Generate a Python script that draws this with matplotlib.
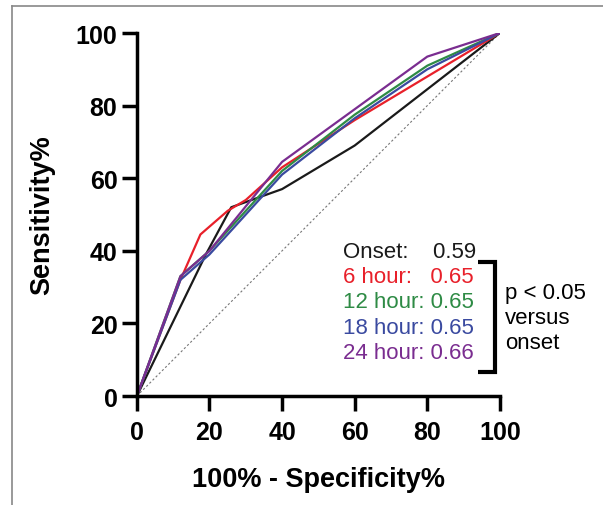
import matplotlib.pyplot as plt
from matplotlib.lines import Line2D

plt.rcParams['font.family'] = ['Liberation Sans', 'DejaVu Sans']

# ROC curve points (x = 100% - specificity, y = sensitivity)
onset_x = [0, 19, 26, 40, 60, 80, 100]
onset_y = [0, 39, 52, 57, 69, 84.5, 100]
h6_x = [0, 12, 17.5, 25, 30, 40, 60, 80, 100]
h6_y = [0, 32, 44.5, 51, 54, 63, 76, 88, 100]
h12_x = [0, 12, 20, 40, 60, 80, 100]
h12_y = [0, 33, 40, 62, 77.5, 91, 100]
h18_x = [0, 12, 20, 40, 60, 80, 100]
h18_y = [0, 32, 39, 61, 76.5, 90, 100]
h24_x = [0, 12, 20, 40, 60, 80, 100]
h24_y = [0, 33, 40, 64.5, 79, 93.5, 100]

labels = ['Onset:    0.59', '6 hour:   0.65', '12 hour: 0.65', '18 hour: 0.65', '24 hour: 0.66']
colors = ['#1a1a1a', '#e8202a', '#2e8b45', '#3a4aa0', '#7a2d90']
ticks = [0, 20, 40, 60, 80, 100]
note = ['p < 0.05', 'versus', 'onset']

fig = plt.figure(figsize=(6.03, 5.06), dpi=100)
ax = fig.add_axes([0.227, 0.2154, 0.602, 0.7174])

ax.plot([0, 100], [0, 100], ls=(0, (2, 2)), color='#777777', lw=0.8)
curves = [(onset_x, onset_y), (h6_x, h6_y), (h12_x, h12_y), (h18_x, h18_y), (h24_x, h24_y)]
for (xs, ys), c in zip(curves, colors):
    ax.plot(xs, ys, color=c, lw=1.6)

ax.set_xlim(0, 100)
ax.set_ylim(0, 100)
ax.set_xticks(ticks)
ax.set_yticks(ticks)
ax.tick_params(width=2.5, length=11, labelsize=18, pad=3)
ax.tick_params(axis='x', pad=6)
for lab in ax.get_xticklabels() + ax.get_yticklabels():
    lab.set_fontweight('bold')
for s in ['top', 'right']:
    ax.spines[s].set_visible(False)
for s in ['left', 'bottom']:
    ax.spines[s].set_linewidth(2.5)

ax.set_xlabel('100% - Specificity%', fontsize=19.5, fontweight='bold', labelpad=16)
ax.set_ylabel('Sensitivity%', fontsize=19.5, fontweight='bold', labelpad=15)

# AUC labels
for i, (lab, c) in enumerate(zip(labels, colors)):
    ax.text(56.7, 39.7 - i * 6.9, lab, color=c, fontsize=16, va='center', ha='left')

# bracket
ax.plot([94, 98.6, 98.6, 94], [36.9, 36.9, 6.6, 6.6], color='black', lw=3, clip_on=False,
        solid_capstyle='butt', solid_joinstyle='miter')
for i, t in enumerate(note):
    ax.text(101.5, 28.6 - i * 6.9, t, fontsize=16, va='center', ha='left')

# thin frame of the original figure (top and left edges)
fig.add_artist(Line2D([0.02, 1.0], [0.986, 0.986], transform=fig.transFigure,
                      color='#888888', lw=1.2))
fig.add_artist(Line2D([0.02, 0.02], [0.0, 0.986], transform=fig.transFigure,
                      color='#888888', lw=1.2))

fig.savefig('out.png', dpi=100)
